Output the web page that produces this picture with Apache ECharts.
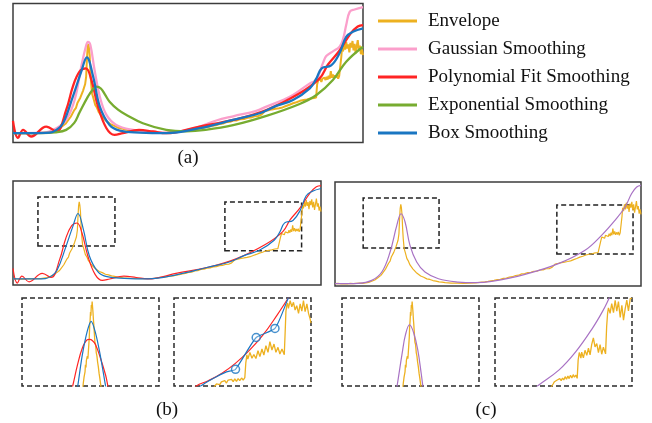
<!DOCTYPE html>
<html>
<head>
<meta charset="utf-8">
<script src="https://cdn.jsdelivr.net/npm/echarts@6/dist/echarts.min.js"></script>
<style>
  html, body { margin: 0; padding: 0; background: #fff; }
  #chart { width: 652px; height: 423px; }
</style>
</head>
<body>
<div id="chart"></div>
<script>
// ---- data (x in % of the trace, y in envelope units) ----
const legendNames = ['Envelope', 'Gaussian Smoothing', 'Polynomial Fit Smoothing', 'Exponential Smoothing', 'Box Smoothing']
const panelLabels = ['(a)', '(b)', '(c)']

const envelope = [[0,5],[1,5.3],[2,4.8],[3,5.2],[4,4.9],[5,5.3],[6,5],[7,5.3],[8,5.6],[9,5.5],[10,6.1],[11,6.6],[12,7.9],[13,9.4],[14,12.2],[15,15],[15.5,17.5],[16,19.5],[16.5,22.5],[17,24.5],[17.5,29.5],[18,32],[18.4,37],[18.8,38.5],[19.2,42.5],[19.6,44],[20,50],[20.3,52],[20.6,57],[20.9,65],[21.1,82],[21.3,95],[21.5,100],[21.7,96],[21.9,88],[22.1,71],[22.3,59],[22.6,47],[23,42],[23.5,35],[24,32],[24.5,27.5],[25,25.5],[25.5,22.5],[26,21],[26.5,18.5],[27,17.5],[28,14.2],[29,12.8],[30,10.8],[31,10.1],[32,8.8],[33,8.1],[34,7.2],[35,6.9],[36,6.2],[37,6.1],[38,5.7],[40,5.6],[42,5.3],[44,5.6],[46,5.9],[48,6.9],[49,7.2],[50,7.7],[51,8.5],[52,8.9],[53,9.8],[54,10.3],[55,11.3],[56,11.8],[57,13],[58,13.4],[59,14.8],[60,15.2],[61,16.8],[62,17.1],[63,18.4],[64,18.6],[65,19.9],[66,20.1],[67,21.4],[68,21.6],[69,22.9],[70,23.1],[71,24.8],[71.5,24.6],[72,28.6],[72.5,28.2],[73,29.4],[73.5,28.8],[74,30.3],[74.5,29.7],[75,30.9],[75.5,30.4],[76,31.6],[76.5,31],[77,32.4],[77.5,31.8],[78,33.9],[78.5,33.2],[79,35.2],[79.5,34.5],[80,36.8],[80.5,36],[81,37.9],[81.5,37.1],[82,39.4],[82.5,38.6],[83,40.3],[83.5,39.6],[84,40.9],[84.5,40.2],[85,41.9],[85.5,41.1],[86,42.4],[86.6,42.8],[86.9,57],[87.2,61],[87.5,59.5],[87.8,62.5],[88.1,59.5],[88.4,63],[88.7,61],[89,64],[89.3,61.5],[89.6,65],[89.9,62],[90.2,66],[90.5,63],[90.8,71],[91.1,64],[91.4,67.5],[91.7,63.5],[92,66.5],[92.3,64],[92.6,67],[92.9,63],[93.2,66],[93.5,64.5],[93.8,86],[94,96],[94.3,92],[94.6,100],[94.9,94],[95.2,102],[95.5,95],[95.8,99.5],[96.1,91],[96.4,101],[96.7,96],[97,103],[97.3,93],[97.6,100],[97.9,90],[98.2,97],[98.5,104],[98.8,94],[99.1,98],[99.4,89],[99.7,94],[100,88]]

const gaussian = [[0,5],[8.6,5.5],[12.4,10.3],[15.2,19.1],[17.6,40.3],[19.5,75.7],[20.8,96.9],[21.4,102.2],[22.1,98.7],[23.3,72.2],[24.8,43.9],[26.7,24.4],[29.5,13.8],[34.3,8.5],[39,6.8],[43.8,5.7],[48.6,7.5],[53.3,12],[58.1,18.5],[62.9,23],[69.5,28.7],[72.4,33.3],[77.1,40.3],[80,45.6],[84.8,58],[86.7,62],[88.6,80],[89.5,87],[91.4,92],[93.3,97],[94.3,105],[95.2,120],[96.2,134],[97.6,136.5],[100,139]]

const polynomial = [[0,18],[1.4,0],[2.9,8.5],[5.2,1.5],[9.5,12],[12.4,6.8],[15.2,29.7],[17.1,54.5],[19,70.4],[20.8,73.9],[22.4,61.6],[24.3,33.3],[26.7,10.3],[29,3.2],[31.4,5],[36,8.5],[40,6.8],[43.8,5],[53.3,12.1],[62.9,19.1],[72.4,29.7],[81.9,47.4],[87.6,63.3],[90,78],[93.2,92.4],[96.4,110.8],[98.5,118.5],[100,120]]

const exponential = [[0,5],[8,5],[12,5.8],[15.2,8.5],[17.5,16],[19,27],[21.4,43.9],[22.7,51],[23.9,54.5],[25.1,52.5],[26.3,46],[27.6,38.5],[30,30],[32.4,24.4],[37.1,15.6],[43.8,8.5],[49.5,7],[55,8.5],[62.9,13.5],[72.4,23.4],[81.9,36.1],[86.7,45.6],[91.4,61.6],[95.2,81],[100,96.9]]

const boxSmooth = [[0,5],[5,5],[10.5,5.5],[12.4,8.5],[14.3,15.6],[17.1,43.9],[19.5,70.4],[21.1,85.6],[22.9,65.1],[24.8,33.3],[27.6,13.8],[30.5,7.8],[36.2,5.7],[43.8,5],[53.3,10.3],[62.9,19.1],[70.5,26.2],[75.2,34],[80,40.3],[84.8,52.7],[86.7,63.3],[88.2,74],[90.9,77],[93.3,90],[95.2,107.5],[97.1,112.8],[100,116.4]]

const fitCurve = [[0,5],[7.6,5.5],[12,9],[15.3,19],[18,43],[20.2,74.9],[21.6,88.8],[22.9,78.9],[24.5,50.9],[26.7,31],[29.4,19],[33.8,11],[40.3,7],[45.8,6.2],[51.2,7.8],[62.1,16.2],[73,29],[81.7,45],[87.1,62.9],[91.5,80.9],[94.8,96.8],[96.9,112.8],[98.6,120.8],[100,122.8]]

// dashed boxes on (b) and (c): [x0,y0],[x1,y1]
const boxesB = [[[8.1,45.6],[33.1,105.9]], [[68.8,39.8],[93.7,99.7]]]
const boxesC = [[[9.2,47.7],[34,107.6]], [[72.5,40.6],[97.4,99.2]]]

// zoomed views (local 0-100 coordinates)
const zoomPeakEnvelope = [[44.4,-2],[44.8,4],[45.3,10],[45.6,8],[46,16],[46.3,24],[46.7,21],[47,29],[47.4,27],[47.7,34],[48.1,31],[48.4,38],[48.8,40],[49.1,55],[49.4,68],[49.7,74],[50,84],[50.3,80],[50.6,92],[50.9,89],[51.2,96],[51.5,90],[51.8,84],[52.1,76],[52.4,70],[52.8,60],[53.2,50],[53.7,47],[54.2,38],[54.7,34],[55.2,27],[55.7,22],[56.3,14],[56.8,9],[57.3,3],[57.8,-2]]
const zoomPeakPoly = [[35.5,-8],[37,0],[40.5,24],[44,43],[47.6,52.5],[49.3,53],[51.5,51.5],[53.7,47],[57.3,31.6],[61,12.5],[62.7,0],[63.5,-6]]
const zoomPeakBox = [[40,-5],[40.7,0],[44,35],[47.6,62],[50.5,73.4],[53.7,60],[57.3,33.5],[61,0],[61.6,-5]]
const zoomPeakFit = [[39.5,-5],[40.2,0],[43.9,37],[46.3,58],[49.3,69.6],[52.4,60],[55.3,41],[57.8,14.5],[59,0],[59.6,-5]]

const zoomTailEnvelopeB = [[28.5,-3],[29.8,0],[31,2.3],[32.2,3.8],[33.4,1.5],[34.6,4.6],[35.9,3],[37.1,6.1],[38.3,3.4],[39.5,6.8],[40.7,4.6],[42,7.6],[43.2,4.9],[44.4,8],[45.6,5.3],[46.8,8.4],[48,6.1],[49.3,9.1],[50.5,6.8],[51.7,9.5],[52.4,25.9],[53.2,35.4],[53.9,30.5],[54.6,31.6],[55.4,38.2],[56.1,37.3],[56.9,31.5],[57.6,29.7],[58.3,35.8],[59,36.5],[59.8,31.2],[60.5,32.7],[61.3,40.1],[62,39.2],[62.7,33.4],[63.4,34.2],[64.2,42],[64.9,41.1],[65.6,35.2],[66.3,36.5],[67.1,45.8],[67.8,44.9],[68.6,38.3],[69.3,39.2],[70,50.3],[70.7,49.4],[71.5,40.9],[72.2,41.8],[73,47.7],[73.7,46.8],[74.4,38.3],[75.1,39.2],[75.9,43.9],[76.6,43],[77.3,36.4],[78,37.3],[78.8,42],[79.5,41.1],[80.5,35.4],[81.2,63.9],[81.7,84.8],[82.3,91.5],[82.9,94.3],[83.5,88.2],[84.1,86.7],[84.8,97],[85.4,98.1],[86,90.1],[86.6,88.6],[87.2,95.1],[87.8,96.2],[88.4,86.3],[89,84.8],[89.6,91.3],[90.2,92.4],[90.9,82.5],[91.5,81],[92.1,93.2],[92.7,94.3],[93.3,85.2],[93.9,86.7],[94.5,97],[95.1,98.1],[95.7,84.4],[96.3,82.9],[97,93.2],[97.6,94.3],[98.2,82.5],[98.8,81],[99.4,76],[100,71.5]]
const zoomTailPoly = [[14,-6],[16.3,0],[25,6],[35,14.5],[45,26],[55,40.5],[65,58],[75,80],[83.4,100],[85,104]]
const zoomTailBox = [[17.5,-4],[19.5,0],[25,5.5],[31,10.6],[38.3,16],[44.9,19],[60,55.1],[73.7,65.4],[83.4,100],[85,105]]
const boxKnots = [[44.9,19],[60,55.1],[73.7,65.4]]

const zoomTailEnvelopeC = [[40.5,-3],[41.5,0],[42.4,2.3],[43.4,4.9],[44.4,3],[45.4,6.8],[46.3,4.6],[47.3,8.4],[48.3,6.1],[49.3,9.1],[50.2,6.8],[51.2,10.6],[52.2,7.6],[53.2,11.4],[54.1,8.4],[55.1,12.2],[56.1,9.1],[57.1,12.9],[58,9.9],[59,12.5],[60,8.7],[60.7,29.7],[61.5,38],[62.1,35.2],[62.7,31.6],[63.3,38.5],[63.9,37.3],[64.5,32],[65.1,30.4],[65.7,40.6],[66.3,39.2],[67,34.8],[67.6,33.5],[68.2,42.9],[68.8,41.8],[69.4,35.4],[70,36.5],[70.6,47.3],[71.2,48.7],[71.8,54.6],[72.4,53.2],[73,44.4],[73.7,43],[74.3,48.1],[74.9,46.8],[75.5,38],[76.1,39.2],[76.7,46.9],[77.3,45.6],[77.9,36.1],[78.5,37.3],[79.1,44.2],[79.8,43],[80.7,36.5],[81.5,67.7],[82.2,82.9],[82.8,88.8],[83.4,90.5],[84,82.6],[84.6,81],[85.2,93.7],[85.9,92.4],[86.5,83.3],[87.1,84.8],[87.7,97.4],[88.3,96.2],[88.9,85.1],[89.5,86.7],[90.1,95.8],[90.7,94.3],[91.4,77.8],[92,79.1],[92.6,91.7],[93.2,90.5],[93.8,74.9],[94.4,73.4],[95,87.6],[95.6,89],[96.2,97.5],[96.8,96.2],[97.4,85.3],[98,86.7],[98.7,99.2],[99.3,98.1],[100,100]]
const zoomTailFit = [[29,-4],[31,0],[46.8,18.3],[59,39],[71.2,65.8],[78.5,84.8],[83.4,100],[85,105]]

// ---- styles ----
const COLORS = {
  env: '#EDB120', gauss: '#FB9FCB', poly: '#FF2424', expo: '#77AC30', box: '#1A76C2', fit: '#A872C4'
}
const FONT = 'Liberation Serif'

let chart = echarts.init(document.getElementById('chart'))

// grids: 0 (a), 1 (b), 2 (c), 3-6 zoom views
let grids = [
  { left: 13, top: 3.5, width: 350, height: 139 },
  { left: 13, top: 181, width: 308, height: 104 },
  { left: 335, top: 182, width: 306, height: 104 },
  { left: 22, top: 298, width: 137, height: 88 },
  { left: 174, top: 298, width: 137, height: 88 },
  { left: 342, top: 298, width: 137, height: 88 },
  { left: 495, top: 298, width: 137, height: 88 }
].map(function (g, i) {
  let solid = i < 3
  return Object.assign(g, {
    show: true,
    borderColor: solid ? '#3c3c3c' : '#2a2a2a',
    borderWidth: 1.5,
    borderType: solid ? 'solid' : [5, 3],
    backgroundColor: 'transparent'
  })
})

let yRanges = [[-4.9, 142.9], [-2.43, 125.6], [2.26, 126.8], [0, 100], [0, 100], [0, 100], [0, 100]]

let xAxes = grids.map(function (g, i) {
  return { type: 'value', gridIndex: i, min: 0, max: 100, show: false }
})
let yAxes = grids.map(function (g, i) {
  return { type: 'value', gridIndex: i, min: yRanges[i][0], max: yRanges[i][1], show: false }
})

function curve (name, data, grid, color, width, smooth) {
  return {
    name: name,
    type: 'line',
    xAxisIndex: grid,
    yAxisIndex: grid,
    data: data,
    symbol: 'none',
    smooth: smooth,
    clip: true,
    lineStyle: { color: color, width: width },
    itemStyle: { color: color },
    emphasis: { disabled: true }
  }
}

function dashedBoxes (boxes) {
  return {
    silent: true,
    label: { show: false },
    itemStyle: { color: 'rgba(0,0,0,0)', borderColor: '#222', borderWidth: 1.5, borderType: [5, 3] },
    data: boxes.map(function (b) { return [{ coord: b[0] }, { coord: b[1] }] })
  }
}

let series = [
  // (a)
  curve(legendNames[0], envelope, 0, COLORS.env, 2, false),
  curve(legendNames[1], gaussian, 0, COLORS.gauss, 2.3, 0.4),
  curve(legendNames[2], polynomial, 0, COLORS.poly, 2.3, 0.4),
  curve(legendNames[3], exponential, 0, COLORS.expo, 2.3, 0.4),
  curve(legendNames[4], boxSmooth, 0, COLORS.box, 2.3, 0.4),
  // (b)
  Object.assign(curve(legendNames[0], envelope, 1, COLORS.env, 1.2, false), { markArea: dashedBoxes(boxesB) }),
  curve(legendNames[2], polynomial, 1, COLORS.poly, 1.2, 0.4),
  curve(legendNames[4], boxSmooth, 1, COLORS.box, 1.2, 0.4),
  // (c)
  Object.assign(curve(legendNames[0], envelope, 2, COLORS.env, 1.2, false), { markArea: dashedBoxes(boxesC) }),
  curve('Fit', fitCurve, 2, COLORS.fit, 1.2, 0.4),
  // zoom views of (b)
  curve(legendNames[0], zoomPeakEnvelope, 3, COLORS.env, 1.3, false),
  curve(legendNames[2], zoomPeakPoly, 3, COLORS.poly, 1.2, 0.4),
  curve(legendNames[4], zoomPeakBox, 3, COLORS.box, 1.2, 0.3),
  curve(legendNames[0], zoomTailEnvelopeB, 4, COLORS.env, 1.3, false),
  curve(legendNames[2], zoomTailPoly, 4, COLORS.poly, 1.2, 0.4),
  curve(legendNames[4], zoomTailBox, 4, COLORS.box, 1.2, 0.2),
  {
    name: 'Box knots',
    type: 'scatter',
    xAxisIndex: 4,
    yAxisIndex: 4,
    data: boxKnots,
    symbol: 'circle',
    symbolSize: 8,
    itemStyle: { color: 'rgba(255,255,255,0.4)', borderColor: COLORS.box, borderWidth: 1.5 },
    z: 5
  },
  // zoom views of (c)
  curve(legendNames[0], zoomPeakEnvelope, 5, COLORS.env, 1.3, false),
  curve('Fit', zoomPeakFit, 5, COLORS.fit, 1.2, 0.4),
  curve(legendNames[0], zoomTailEnvelopeC, 6, COLORS.env, 1.3, false),
  curve('Fit', zoomTailFit, 6, COLORS.fit, 1.2, 0.4)
]

let labelPos = [[188, 158], [167, 410], [486, 410]]

let option = {
  animation: false,
  backgroundColor: '#fff',
  grid: grids,
  xAxis: xAxes,
  yAxis: yAxes,
  legend: {
    data: legendNames,
    orient: 'vertical',
    left: 373,
    top: 6,
    icon: 'rect',
    itemWidth: 39,
    itemHeight: 3,
    itemGap: 8,
    selectedMode: false,
    textStyle: { fontFamily: FONT, fontSize: 19, color: '#111', lineHeight: 20, padding: [0, 0, 0, 6] }
  },
  graphic: panelLabels.map(function (t, i) {
    return {
      type: 'text',
      x: labelPos[i][0],
      y: labelPos[i][1],
      silent: true,
      style: { text: t, font: '19px "' + FONT + '"', fill: '#111', align: 'center', verticalAlign: 'middle' }
    }
  }),
  series: series
}

chart.setOption(option)
</script>
</body>
</html>
